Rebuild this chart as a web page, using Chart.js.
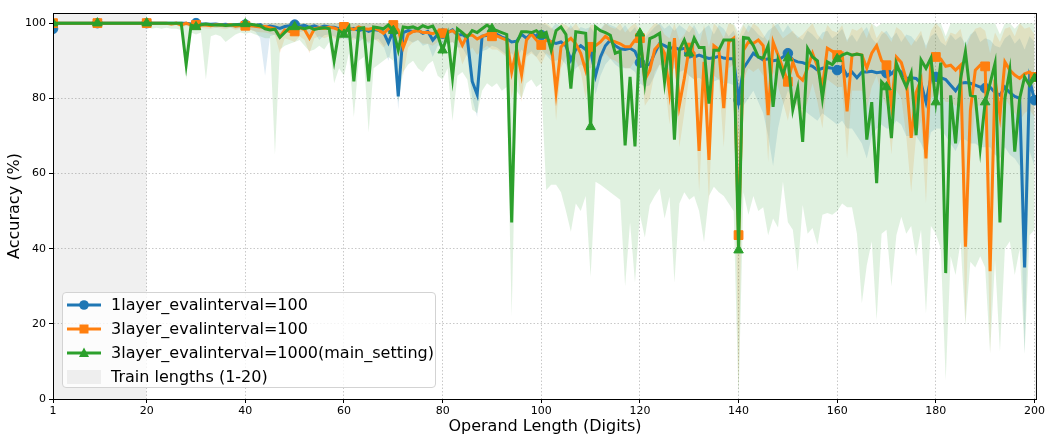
<!DOCTYPE html>
<html>
<head>
<meta charset="utf-8">
<script src="https://cdn.jsdelivr.net/npm/chart.js@4"></script>
<style>
  body { margin: 0; background: #fff; }
  #wrap { position: relative; width: 1047px; height: 436px; }
  #legend {
    position: absolute; left: 62px; top: 292px; width: 372px; height: 94px;
    border: 1px solid #d3d3d3; border-radius: 4px; background: rgba(255,255,255,0.8);
    font-family: 'DejaVu Sans', sans-serif; font-size: 16px; color: #000;
  }
  .row { position: absolute; left: 0; height: 24px; line-height: 24px; white-space: nowrap; }
  .row svg { position: absolute; left: 3px; top: 5px; }
  .row span { position: absolute; left: 48px; top: 0; }
</style>
</head>
<body>
<div id="wrap">
  <canvas id="chart" width="1047" height="436"></canvas>
  <div id="legend"></div>
</div>
<script>
const lengths = Array.from({ length: 200 }, (_, i) => i + 1);
const xTicks = [1, 20, 40, 60, 80, 100, 120, 140, 160, 180, 200];
const yTicks = [0, 20, 40, 60, 80, 100];

const labels = ['1layer_evalinterval=100', '3layer_evalinterval=100', '3layer_evalinterval=1000(main_setting)'];
const trainLabel = 'Train lengths (1-20)';

const blue = [
  98.5,100,100,100,100,100,100,100,100,100,100,100,100,100,100,100,100,100,100,100,
  100,100,100,100,100,100,100,100,99.8,100,99.8,99.8,99.7,99.8,99.6,99.7,99.5,99.6,99.7,99.6,
  99.5,99.3,99.6,98.8,99.2,99.0,98.6,99.1,99.3,99.6,99.2,99.4,98.9,99.3,98.8,99.2,99.0,98.9,98.5,98.8,
  98.2,98.6,98.0,98.4,97.8,98.3,98.1,97.6,94.8,98.0,80.5,97.5,98,97.8,98.2,97.3,97.8,95.5,97,97.2,
  97.5,98.2,96.8,97,96,84.5,81,96.5,96.8,97.2,97,96.3,95.8,95,95.2,97,96,97.2,96.5,96.8,
  96,95,94.6,95,94,90.2,93,94,93,92.8,86,91,94,95.5,94,93.2,93,93.3,92.5,89.5,
  88.8,89,92,94.6,94,93.3,93.5,93,93.3,92,91,91.5,91,90.6,90.8,91.2,90.7,90.5,90.5,79.5,
  88,90,92,91,90.2,90.5,90,90.2,91,92,90.2,89.7,89.5,89,88.5,87.5,88,88.2,88,87.5,
  88.5,86,87,85.5,87,87,87.2,86.8,87,86.7,86.5,88,87,85.3,85.5,85.3,84,79,85.5,85.7,
  85.5,85,83.5,82,84,84.2,84,83.5,83,82.7,83,81.5,80.8,83,81.5,80.5,80,35,85,79.5
];
const blueLow = [
  97,100,100,100,100,100,100,100,100,100,100,100,100,100,100,100,100,100,100,100,
  99.5,99.6,99.5,99.7,99.4,99.5,99.3,99.4,99.2,99.5,99.2,99.0,99.1,98.8,99.0,98.7,98.9,98.6,98.8,98.7,
  98.3,97.8,96,86,96.5,97,95.5,97.5,98,98.2,97.6,98,96.5,97.5,95.5,96.8,97,96.5,95.8,96,
  95.5,96.2,95,96,94.5,95.5,95.8,94,90,95,77,94,95.5,94.8,95.5,94,94.5,91,94,94,
  94.5,95,93.5,93.5,91,80,75,92.5,93,94,93.5,92.5,91.5,92,90,93,91.5,92.5,91,93,
  91.5,90,90,90.5,89,85,88,89,88,88,81,86,89,90.5,89,88,88,88,87,84,
  83,83.5,86,89,88.5,87.5,88,87,87.5,86,85,85.5,84.5,84,84.5,85,84,84,83.5,70,
  78,80,82,79,76,70,62,72,78,82,80,78,77,76,75,74,76,75,74,73,
  74,72,72,70,68,64,70,72,73,72,72,74,73,70,70,70,68,65,71,72,
  72,70,68,66,69,69,68,68,67,67,67,65,64,67,65,64,62,12,66,62
];
const blueHigh = [
  100,100,100,100,100,100,100,100,100,100,100,100,100,100,100,100,100,100,100,100,
  100,100,100,100,100,100,100,100,100,100,100,100,100,100,100,100,100,100,100,100,
  100,100,100,100,100,100,100,100,100,100,100,100,100,100,100,100,100,100,100,100,
  100,100,100,100,100,100,100,100,100,100,100,100,100,100,100,100,100,100,100,100,
  100,100,100,100,100,100,100,100,100,100,100,100,100,100,100,100,100,100,100,100,
  99.5,98.5,100,99,98,99.5,97.5,99,98.5,99,97,98.5,100,99.5,99,98,99.5,97.5,99,96.5,
  96,97.5,99,100,98.5,99.5,98,99.5,98.5,97.5,99.5,97,98.5,99.5,97,99.5,98.5,96.5,98,95,
  97,99.5,98.5,97,96,98,99,100,97.5,99.5,97.5,96.5,95.5,98,97,95.5,97.5,98,96,97,
  98.5,95.5,97,95,97.5,99,96,94.5,97,98,96,97.5,95,97,96.5,95,97,94,96.5,97.5,
  95,94,97,95.5,96.5,94.5,97,98,95,96,95.5,94,93.5,96,97,94.5,96,93,96.5,95
];

const orange = [
  100,100,100,100,100,100,100,100,100,100,100,100,100,100,100,100,100,100,100,100,
  100,100,100,100,99.8,100,99.5,100,99.5,99.5,99.6,99.5,99.3,99.6,99.5,99.4,99.6,99.2,99.4,99.3,
  99.3,99.2,99.0,99.1,98.8,98.5,96.4,98.2,97.8,97.8,98.8,98.3,96,98.5,98.8,98.6,98.9,98.7,98.2,99,
  98.6,98.3,99,98.5,98.4,98.7,98.2,97.3,98.5,99.5,98.2,93.5,97,97.8,98,97.5,97.5,97.2,97.8,97.3,
  97.5,98,97,94.1,96.8,96.8,95.8,96.5,97,96.5,96.6,96,95.5,87,93,86.2,95.5,97.1,95.5,94.2,
  95.5,95,81.7,93.7,95,96,94.5,92,87.5,93.7,94,95,96.5,95.5,95,94.5,93.7,93.7,95.5,96,
  85,87.5,93,94.5,92,81.7,96,78.2,85.3,93.5,92,66,89.7,63.6,94,93,77.4,95,96,43.6,
  92.8,95,94.6,95.5,94,75.5,95,91.5,88,84.4,89.7,86,84.8,88,92,88.5,83,93.3,92.5,91.5,
  92,76.5,91.5,91.8,91.5,88,92,94,90,88.8,78.2,91,89.5,85,69.5,81.5,85,64,90,91,
  90.5,88.5,88.8,87.5,88.8,40.5,76.8,87.5,88.8,88.5,34,85,75.5,89.7,87.5,86.2,85.3,86.5,87,85.7
];
const orangeLow = [
  100,100,100,100,100,100,100,100,100,100,100,100,100,100,100,100,100,100,100,100,
  99.5,99.6,99.5,99.6,99.3,99.5,98.8,99.3,98.8,98.8,98.8,98.6,98.5,98.8,98.6,98.4,98.8,98.2,98.5,98.3,
  98.2,97.8,97.6,97.5,97.2,96.8,92,96,95.5,95,96.5,95.5,92,96,96.5,96,96.5,96,95.5,96.5,
  95.8,95.5,96.5,95.5,95,96,95,93.5,95,97,95.5,86,93.5,95,95.5,94.5,94.5,94,95,95.5,
  94.5,95,94,89,92,93.5,91.5,93,94,93,93,92,91,80,88,79,91,92,91,89,
  92,91,74,88,91,92,90,87,80,88,89,90,92,90.5,90,89,88,88,90,91,
  78,80,87,89,85,73,90,67,76,86,85,55,81,52,86,85,67,88,89,2,
  85,88,87,88,86,63,87,83,79,74,81,77,75,79,84,79,72,85,84,83,
  83,64,82,82,82,77,83,86,81,78,65,82,80,70,55,70,74,52,80,81,
  81,79,79,78,78,20,64,78,78,78,12,74,62,80,78,76,74,76,77,75
];
const orangeHigh = [
  100,100,100,100,100,100,100,100,100,100,100,100,100,100,100,100,100,100,100,100,
  100,100,100,100,100,100,100,100,100,100,100,100,100,100,100,100,100,100,100,100,
  100,100,100,100,100,100,100,100,100,100,100,100,100,100,100,100,100,100,100,100,
  100,100,100,100,100,100,100,100,100,100,100,100,100,100,100,100,100,100,100,100,
  100,100,100,100,100,100,100,100,100,100,100,100,100,100,100,100,100,100,100,100,
  100,99,97.5,100,99.5,98.5,100,98,96.5,99.5,99.5,98,100,99,98.5,100,97.5,99,100,98,
  96.5,98.5,100,99.5,97,96,100,95.5,97,99.5,98.5,94,99.5,93.5,100,98.5,96,100,99.5,96,
  99.5,97.5,100,99,97,95,100,98,96,97,98,96,97,98.5,100,97,95.5,99.5,98,97.5,
  99.5,95,98.5,98,99,96,100,96,98,97,95,99,98,96,94,96,98,93,98,100,
  98.5,95,97.5,97,98.5,93,96.5,98.5,99,98,92,97.5,95,98.5,99,96.5,100,98.5,99,97
];

const green = [
  100,100,100,100,100,100,100,100,100,100,100,100,100,100,100,100,100,100,100,100,
  100,100,100,100,100,100,100,89,99.5,99,99.6,99.8,99.6,99.5,99.6,99.4,99.5,99.6,99.6,99.8,
  99.7,99.5,99.3,98.5,98.2,98.4,96.2,97.5,98.8,99,98.8,98.5,98.9,98.3,98.6,98.8,98.5,90,98,97,
  99,84.5,98.6,98.8,84.5,99,98.8,98.5,99.5,98,92.8,99,98.8,99,98.5,99.3,98.8,99.2,96.8,92.8,
  97,85.5,98.5,97.5,96.3,98,97.5,98.5,99.5,98.5,98,97.5,97,47,94.6,97.7,97.7,97.5,98,96.8,
  97.5,92.8,98,99,97,82.6,97.7,97.5,97.3,72.4,99,98,97.5,96.8,92,92.5,67.5,85.7,67.2,97.3,
  84.4,95.9,96.5,97.3,84.4,95,69,92.8,95.5,92,96,93.5,93.5,78.6,92.8,92.8,95.5,95.5,95.5,39.6,
  96.2,96,94,91,90.7,94,77.7,90.2,86.2,90.7,77,82.7,68.4,93.3,91,90,80,89.7,89,90.5,
  91.5,92,91.5,91.8,91.5,69,79,57.4,84.4,83,69.4,89.3,86,83,86.7,70.2,90.2,88,90.7,79,
  89.5,33.5,80.8,68,85,92.4,80.8,80.5,66.7,79,84,89.3,47,80,87.5,65.8,80,85.7,83.5,85.3
];
const greenLow = [
  100,100,100,100,100,100,100,100,100,100,100,100,100,100,100,100,100,100,100,100,
  98.5,98.8,98.5,98.8,98.5,98.5,98.2,85,97.5,97,97.5,85,96.5,97,96.5,95,96,97,97.5,97.2,
  97.5,97,96.5,96,96,65,93,94,94.5,95,95.5,94,92.5,93,94,93,95,84,88,86,
  92,75,90,91,71,88,89,90,91,90,79,87,89,90,88,87,89,90,86,85,
  88,74,86,87,85,77,76,82,84,83,84,82,83,22,82,80,84,85,83,84,
  55.6,57,57,55,50,44.5,52,50,54,32.5,57.8,57,56,55,54,53,30,47,31,49,
  43,51.6,54,56,48,53.8,31,52,55,53,54,50,41.8,54,56.5,55,54,52,50,0,
  55,49,54,50,51,43.6,48,45.6,57.8,47,45,33.9,51.6,44,45.5,41,49,49.5,49,50,
  52,51,51,44,25.5,35.6,42,21,44,45,30,43.6,48.5,44,46,38,45,22.8,46,44,
  40,5,38,33,41.8,19.7,36.5,35,38,35,12.2,37,12.6,40,42,33,40,12,43.6,45
];
const greenHigh = [
  100,100,100,100,100,100,100,100,100,100,100,100,100,100,100,100,100,100,100,100,
  100,100,100,100,100,100,100,100,100,100,100,100,100,100,100,100,100,100,100,100,
  100,100,100,100,100,100,100,100,100,100,100,100,100,100,100,100,100,100,100,100,
  100,100,100,100,100,100,100,100,100,100,100,100,100,100,100,100,100,100,100,100,
  100,100,100,100,100,100,100,100,100,100,100,100,100,100,100,100,100,100,100,100,
  100,100,100,100,100,100,100,100,100,100,100,100,100,100,100,100,100,100,100,100,
  100,100,100,100,100,100,100,100,100,100,100,100,100,100,100,100,100,100,100,97.5,
  100,100,100,100,100,100,100,100,100,100,100,100,100,100,100,100,100,100,100,100,
  100,100,100,100,100,100,100,99,100,100,100,100,100,100,100,100,100,100,100,100,
  100,96.5,100,100,100,100,100,100,100,100,100,100,97,100,100,98.5,100,100,100,100
];

const trainRange = [1, 20];

const C_BLUE = '#1f77b4', C_ORANGE = '#ff7f0e', C_GREEN = '#2ca02c';
const FONT = "'DejaVu Sans', sans-serif";

const pts = arr => lengths.map((x, i) => ({ x, y: arr[i] }));
const marked = r => ctx => (ctx.raw && (ctx.raw.x === 1 || ctx.raw.x % 10 === 0)) ? r : 0;

function line(label, arr, color, style, r, order) {
    return {
        label, data: pts(arr), borderColor: color, backgroundColor: color,
        borderWidth: 3, tension: 0, fill: false, order,
        pointStyle: style, pointRadius: marked(r), pointHoverRadius: marked(r), pointBorderWidth: 1
    };
}
function band(arr, fill, rgba, order) {
    return {
        data: pts(arr), borderWidth: 0, pointRadius: 0, pointHoverRadius: 0,
        tension: 0, fill, backgroundColor: rgba, borderColor: 'rgba(0,0,0,0)', order
    };
}

const frame = {
    id: 'frame',
    afterDraw(chart) {
        const { ctx, chartArea: a } = chart;
        ctx.save();
        ctx.setLineDash([]);
        ctx.strokeStyle = '#000';
        ctx.lineWidth = 1;
        ctx.strokeRect(a.left + 0.5, a.top + 0.5, a.right - a.left - 1, a.bottom - a.top);
        ctx.restore();
    }
};

const gridOpts = { color: '#c8c8c8', tickColor: '#000', tickLength: 4, tickBorderDash: [] };

new Chart(document.getElementById('chart'), {
    type: 'line',
    data: {
        datasets: [
            line(labels[2], green, C_GREEN, 'triangle', 5.5, 0),
            line(labels[1], orange, C_ORANGE, 'rect', 6.2, 1),
            line(labels[0], blue, C_BLUE, 'circle', 4.8, 2),
            band(greenHigh, '+1', 'rgba(44,160,44,0.15)', 3),
            band(greenLow, false, 'rgba(0,0,0,0)', 3),
            band(orangeHigh, '+1', 'rgba(255,127,14,0.15)', 4),
            band(orangeLow, false, 'rgba(0,0,0,0)', 4),
            band(blueHigh, '+1', 'rgba(31,119,180,0.15)', 5),
            band(blueLow, false, 'rgba(0,0,0,0)', 5),
            {
                data: [{ x: trainRange[0], y: 102.7 }, { x: trainRange[1], y: 102.7 }],
                borderWidth: 0, pointRadius: 0, fill: 'origin',
                backgroundColor: 'rgba(128,128,128,0.12)', borderColor: 'rgba(0,0,0,0)', order: 9
            }
        ]
    },
    options: {
        responsive: false,
        animation: false,
        devicePixelRatio: 1,
        layout: { padding: { left: 0, right: 8, top: 13, bottom: 0 } },
        plugins: { legend: { display: false }, tooltip: { enabled: false } },
        scales: {
            x: {
                type: 'linear', min: 1, max: 200.5,
                afterBuildTicks: s => { s.ticks = xTicks.map(v => ({ value: v })); },
                afterFit: s => { s.height = 37; },
                ticks: { color: '#000', font: { family: FONT, size: 11 }, padding: 2, maxRotation: 0, callback: v => v },
                grid: gridOpts,
                border: { display: true, color: '#000', dash: [1.5, 2] },
                title: { display: true, text: 'Operand Length (Digits)', color: '#000', font: { family: FONT, size: 16 }, padding: { top: 0, bottom: 0 } }
            },
            y: {
                min: 0, max: 102.7,
                afterBuildTicks: s => { s.ticks = yTicks.map(v => ({ value: v })); },
                afterFit: s => { s.width = 53; },
                ticks: { color: '#000', font: { family: FONT, size: 11 }, padding: 3 },
                grid: gridOpts,
                border: { display: true, color: '#000', dash: [1.5, 2] },
                title: { display: true, text: 'Accuracy (%)', color: '#000', font: { family: FONT, size: 16 }, padding: { top: 5, bottom: 0 } }
            }
        }
    },
    plugins: [frame]
});

// legend drawn inside the plot, lower left
const legendItems = [
    { text: labels[0], color: C_BLUE, marker: '<circle cx="18" cy="7" r="4.8" fill="' + C_BLUE + '"/>' },
    { text: labels[1], color: C_ORANGE, marker: '<rect x="13.5" y="2.5" width="9" height="9" fill="' + C_ORANGE + '"/>' },
    { text: labels[2], color: C_GREEN, marker: '<polygon points="18,1.5 23,11 13,11" fill="' + C_GREEN + '"/>' },
    { text: trainLabel, patch: true }
];
const legendEl = document.getElementById('legend');
legendItems.forEach((it, i) => {
    const icon = it.patch
        ? '<rect x="1" y="0" width="34" height="14" fill="rgba(128,128,128,0.12)"/>'
        : '<line x1="1" y1="7" x2="35" y2="7" stroke="' + it.color + '" stroke-width="3"/>' + it.marker;
    legendEl.insertAdjacentHTML('beforeend',
        '<div class="row" style="top:' + (i * 24) + 'px"><svg width="36" height="14">' + icon + '</svg><span>' + it.text + '</span></div>');
});
</script>
</body>
</html>
